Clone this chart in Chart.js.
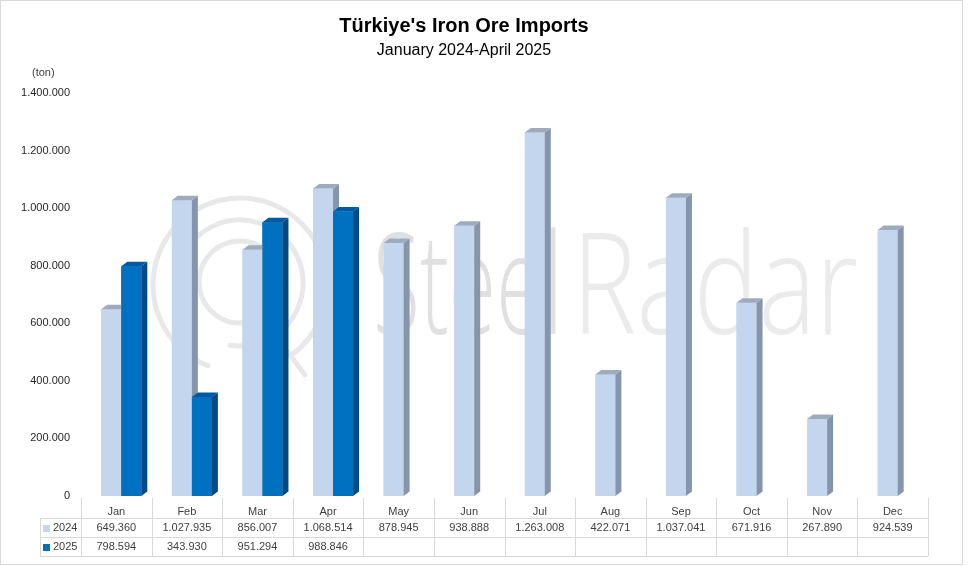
<!DOCTYPE html>
<html>
<head>
<meta charset="utf-8">
<script src="https://cdn.jsdelivr.net/npm/chart.js@4/dist/chart.umd.min.js"></script>
<style>
    html, body { margin: 0; padding: 0; background: #fff; }
    #ironChart { display: block; }
</style>
</head>
<body>
<canvas id="ironChart" width="973" height="566"></canvas>
<script>
// Türkiye iron ore imports, monthly, tons

const months = ['Jan', 'Feb', 'Mar', 'Apr', 'May', 'Jun', 'Jul', 'Aug', 'Sep', 'Oct', 'Nov', 'Dec'];
const seriesNames = ['2024', '2025'];
const imports2024 = [649360, 1027935, 856007, 1068514, 878945, 938888, 1263008, 422071, 1037041, 671916, 267890, 924539];
const imports2025 = [798594, 343930, 951294, 988846, null, null, null, null, null, null, null, null];
const yMax = 1400000;
const yStep = 200000;

const FONT = '"Liberation Sans", Arial, sans-serif';

// front, side, top colours for each series
const faces = [
    { front: '#c4d6ee', side: '#8596ac', top: '#9dabbd' },
    { front: '#0070c0', side: '#004a86', top: '#005a9e' }
];

const BAR_SHIFT = 5;   // excel puts the front faces a bit right of the category centre
const DEPTH_X = 6;
const DEPTH_Y = 4.5;

function formatTon(v) {
    return String(v).replace(/\B(?=(\d{3})+(?!\d))/g, '.');
}

// faint SteelRadar watermark behind the bars
const watermarkPlugin = {
    id: 'watermark',
    beforeDatasetsDraw(chart) {
        const ctx = chart.ctx;
        ctx.save();
        ctx.strokeStyle = '#e8e8e8';
        ctx.lineWidth = 5;
        ctx.lineCap = 'round';
        // rings of the logo, each with a gap
        ctx.beginPath();
        ctx.arc(240, 285, 87, 0.62 * Math.PI, 2.3 * Math.PI);
        ctx.stroke();
        ctx.beginPath();
        ctx.arc(240, 283, 63, 0.85 * Math.PI, 2.55 * Math.PI);
        ctx.stroke();
        ctx.beginPath();
        ctx.arc(240, 282, 41, 0.45 * Math.PI, 2.2 * Math.PI);
        ctx.stroke();
        ctx.beginPath();
        ctx.moveTo(262, 318);
        ctx.lineTo(305, 375);
        ctx.stroke();

        ctx.textBaseline = 'alphabetic';
        ctx.textAlign = 'left';
        ctx.font = '300 140px "Open Sans", "Liberation Sans", sans-serif';
        ctx.fillStyle = '#e0e0e0';
        ctx.fillText('Steel', 373, 334, 190);
        ctx.fillStyle = '#ebebeb';
        ctx.fillText('Radar', 572, 334, 286);
        ctx.restore();
    }
};

function drawBar3d(ctx, p, c) {
    const l = p.x - p.width / 2;
    const r = p.x + p.width / 2;
    // front
    ctx.fillStyle = c.front;
    ctx.fillRect(l, p.y, r - l, p.base - p.y);
    // side
    ctx.fillStyle = c.side;
    ctx.beginPath();
    ctx.moveTo(r, p.y);
    ctx.lineTo(r + DEPTH_X, p.y - DEPTH_Y);
    ctx.lineTo(r + DEPTH_X, p.base - DEPTH_Y);
    ctx.lineTo(r, p.base);
    ctx.closePath();
    ctx.fill();
    // top
    ctx.fillStyle = c.top;
    ctx.beginPath();
    ctx.moveTo(l, p.y);
    ctx.lineTo(l + DEPTH_X, p.y - DEPTH_Y);
    ctx.lineTo(r + DEPTH_X, p.y - DEPTH_Y);
    ctx.lineTo(r, p.y);
    ctx.closePath();
    ctx.fill();
}

// shift bars and redraw them as 3d columns, 2024 behind 2025
const bar3dPlugin = {
    id: 'bar3d',
    beforeDatasetsDraw(chart) {
        chart.ctx.save();
        chart.ctx.translate(BAR_SHIFT, 0);
    },
    afterDatasetsDraw(chart) {
        const ctx = chart.ctx;
        months.forEach((m, i) => {
            chart.data.datasets.forEach((ds, d) => {
                const v = ds.data[i];
                if (v === null || v === undefined) return;
                const bar = chart.getDatasetMeta(d).data[i];
                drawBar3d(ctx, bar.getProps(['x', 'y', 'base', 'width'], true), faces[d]);
            });
        });
        ctx.restore();
    }
};

// data table under the axis, unit label and outer frame
const tablePlugin = {
    id: 'dataTable',
    afterDraw(chart) {
        const ctx = chart.ctx;
        const x = chart.scales.x;
        const colW = x.width / months.length;
        const left = x.left;
        const right = x.right;
        const rows = [518, 537, 556];

        ctx.save();
        ctx.strokeStyle = '#d9d9d9';
        ctx.lineWidth = 1;

        // horizontal lines
        rows.forEach(y => {
            ctx.beginPath();
            ctx.moveTo(40, y + 0.5);
            ctx.lineTo(right, y + 0.5);
            ctx.stroke();
        });
        // column separators
        for (let i = 0; i <= months.length; i++) {
            const cx = Math.round(left + i * colW) + 0.5;
            ctx.beginPath();
            ctx.moveTo(cx, 498);
            ctx.lineTo(cx, 556);
            ctx.stroke();
        }
        ctx.beginPath();
        ctx.moveTo(40.5, 518);
        ctx.lineTo(40.5, 556);
        ctx.stroke();

        // values
        ctx.font = '11px ' + FONT;
        ctx.fillStyle = '#404040';
        ctx.textBaseline = 'middle';
        ctx.textAlign = 'center';
        [imports2024, imports2025].forEach((arr, r) => {
            const cy = (rows[r] + rows[r + 1]) / 2 + 0.5;
            arr.forEach((v, i) => {
                if (v === null) return;
                ctx.fillText(formatTon(v), x.getPixelForValue(i), cy);
            });
        });

        // legend keys in the table
        ctx.textAlign = 'left';
        seriesNames.forEach((name, r) => {
            const cy = (rows[r] + rows[r + 1]) / 2 + 0.5;
            ctx.fillStyle = faces[r].front;
            ctx.fillRect(43, cy - 3, 7, 7);
            ctx.fillStyle = '#404040';
            ctx.fillText(name, 53, cy);
        });

        // unit label
        ctx.fillText('(ton)', 32, 73);

        // frame
        ctx.strokeStyle = '#d9d9d9';
        ctx.strokeRect(0.5, 0.5, 962, 564);
        ctx.restore();
    }
};

const ctx = document.getElementById('ironChart');

const ironChart = new Chart(ctx, {
    type: 'bar',
    data: {
        labels: months,
        datasets: [
            {
                label: seriesNames[0],
                data: imports2024,
                backgroundColor: faces[0].front,
                borderWidth: 0
            },
            {
                label: seriesNames[1],
                data: imports2025,
                backgroundColor: faces[1].front,
                borderWidth: 0
            }
        ]
    },
    options: {
        responsive: false,
        animation: false,
        devicePixelRatio: 1,
        categoryPercentage: 0.567,
        barPercentage: 1.0,
        layout: {
            padding: { top: 0, right: 45, bottom: 0, left: 0 }
        },
        plugins: {
            legend: { display: false },
            tooltip: { enabled: false },
            title: {
                display: true,
                text: "Türkiye's Iron Ore Imports",
                color: '#000',
                font: { family: FONT, size: 20, weight: 'bold' },
                padding: { top: 14, bottom: 3 }
            },
            subtitle: {
                display: true,
                text: 'January 2024-April 2025',
                color: '#000',
                font: { family: FONT, size: 16 },
                padding: { top: 0, bottom: 33 }
            }
        },
        scales: {
            x: {
                grid: { display: false, drawTicks: false },
                border: { display: false },
                ticks: {
                    color: '#404040',
                    font: { family: FONT, size: 11 },
                    padding: 9
                },
                afterFit: function(scale) {
                    scale.height = 70;
                }
            },
            y: {
                min: 0,
                max: yMax,
                grid: { display: false, drawTicks: false },
                border: { display: false },
                ticks: {
                    stepSize: yStep,
                    color: '#262626',
                    font: { family: FONT, size: 11 },
                    padding: 11,
                    callback: function(value) {
                        return formatTon(value);
                    }
                },
                afterFit: function(scale) {
                    scale.width = 81;
                }
            }
        }
    },
    plugins: [watermarkPlugin, bar3dPlugin, tablePlugin]
});
</script>
</body>
</html>
